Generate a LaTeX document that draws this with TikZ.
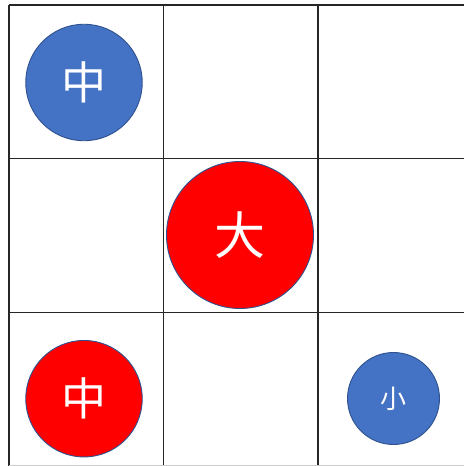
\documentclass[tikz,border=0pt]{standalone}
\usepackage{fontspec}
\newfontfamily\cjk{Noto Sans CJK SC}
\definecolor{oblue}{HTML}{4472C4}
\definecolor{oedge}{HTML}{2F528F}
\definecolor{ored}{HTML}{FF0000}
\begin{document}
\begin{tikzpicture}[x=1pt,y=-1pt,
  gridline/.style={line width=1.9pt,draw=black!85},
  piece/.style={circle,draw=oedge,line width=0.9pt,inner sep=0pt,text=white},
  bluepiece/.style={piece,fill=oblue},
  redpiece/.style={piece,fill=ored}]
\useasboundingbox (0,0) rectangle (464,466);
\fill[white] (0,0) rectangle (464,466);
% grid
\draw[gridline] (9,5) -- (464,5);
\draw[gridline] (9,158.5) -- (464,158.5);
\draw[gridline] (9,312.5) -- (464,312.5);
\draw[gridline] (9,5) -- (9,466);
\draw[gridline] (163.5,5) -- (163.5,466);
\draw[gridline] (318,5) -- (318,466);
\draw[line width=1pt,draw=black!20] (9,465.5) -- (464,465.5);
% pieces
\node[bluepiece,minimum size=116.5pt] (tl) at (84,82.5) {\cjk\fontsize{45}{45}\selectfont 中};
\node[redpiece,minimum size=147pt] (mid) at (240,235) {\cjk\fontsize{51}{51}\selectfont 大};
\node[redpiece,minimum size=116.5pt] (bl) at (84,398.7) {\cjk\fontsize{45}{45}\selectfont 中};
\node[bluepiece,minimum size=92pt] (br) at (393.5,398.5) {\cjk\fontsize{26}{26}\selectfont 小};
\end{tikzpicture}
\end{document}
